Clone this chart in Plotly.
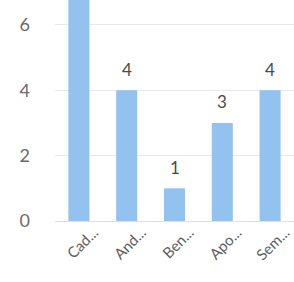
import plotly.graph_objects as go

categories = ["Cad...", "And...", "Ben...", "Apo...", "Sem..."]
values = [7, 4, 1, 3, 4]
y_ticks = [0, 2, 4, 6]
y_max = 6.76

fig = go.Figure(go.Bar(
    x=categories,
    y=values,
    marker=dict(color="#93C2EE", line=dict(width=0)),
    cliponaxis=True,
))

for c, v in zip(categories, values):
    if v <= y_max:
        fig.add_annotation(
            x=c, y=v, text=str(v), showarrow=False, yanchor="middle",
            yshift=21, font=dict(family="Lato", size=17, color="#4a4a4a"),
        )

fig.update_layout(
    width=294, height=282,
    margin=dict(l=55, r=0, t=0, b=61, autoexpand=False),
    paper_bgcolor="white", plot_bgcolor="white",
    bargap=0.56,
    showlegend=False,
    font=dict(family="Lato", color="#606060"),
)
fig.update_yaxes(
    range=[0, y_max], tickvals=y_ticks, showgrid=True, gridcolor="#e8e8e8",
    gridwidth=1, zeroline=False, showline=False, automargin=False,
    tickfont=dict(size=18, color="#6a6a6a"), ticklabelstandoff=24,
)
fig.update_xaxes(
    tickangle=-45, showgrid=False, showline=True, linecolor="#e0e0e0",
    automargin=False,
    tickfont=dict(size=15, color="#606060"), ticklabelshift=15,
    ticklabelstandoff=-4,
)
fig.write_html("out.html", config={"displayModeBar": False},
               post_script="document.body.style.margin='0';")
